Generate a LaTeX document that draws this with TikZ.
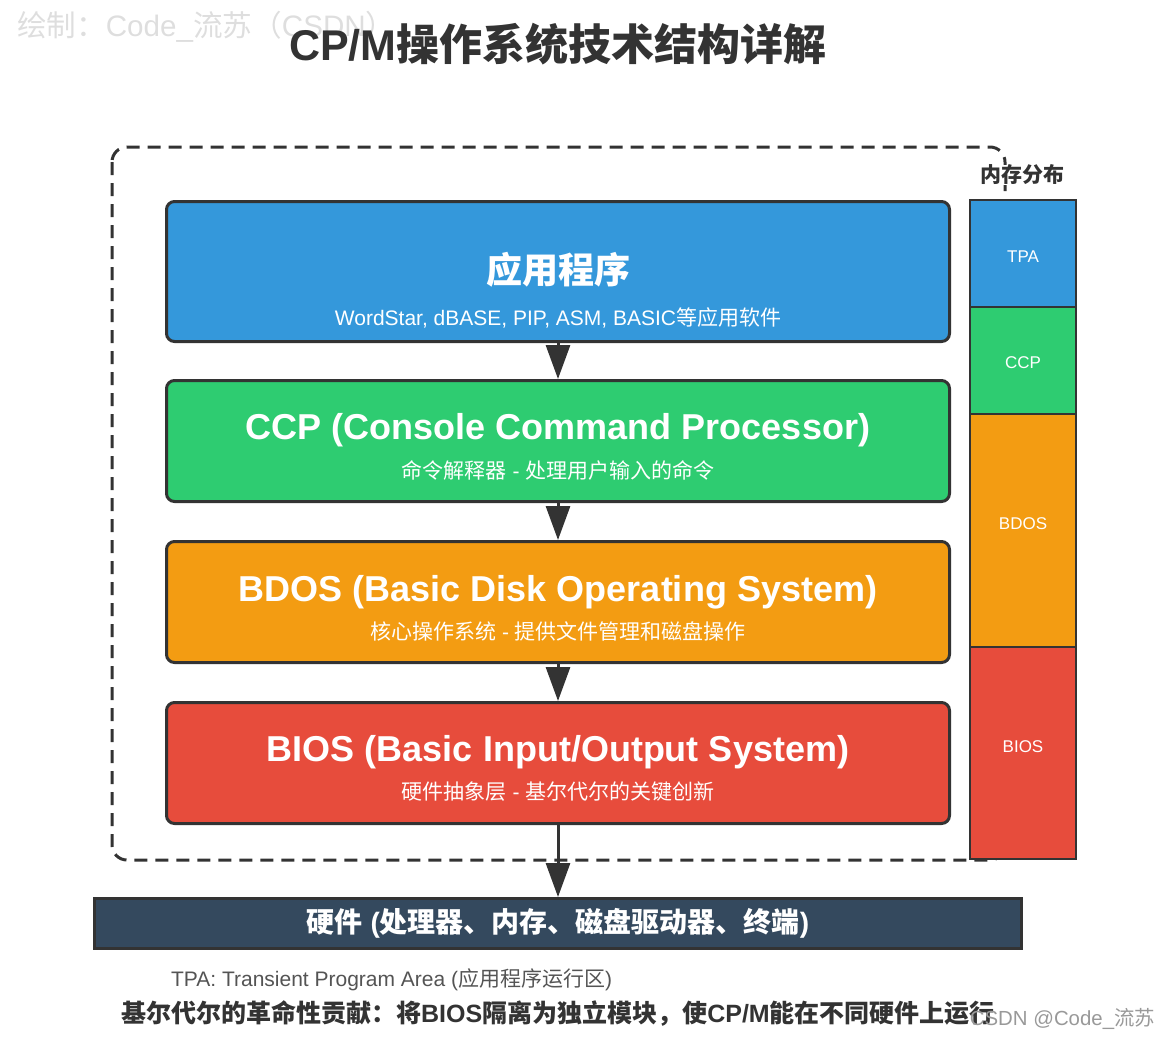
\documentclass[tikz,border=0pt]{standalone}
\usepackage{fontspec}
\setmainfont{Liberation Sans}
\newfontfamily\zhfont{Noto Sans CJK SC}
\newcommand\zh[1]{{\zhfont #1}}
\usetikzlibrary{arrows.meta}
\definecolor{appblue}{HTML}{3498DB}
\definecolor{ccpgreen}{HTML}{2ECC71}
\definecolor{bdosorange}{HTML}{F39C12}
\definecolor{biosred}{HTML}{E74C3C}
\definecolor{hwnavy}{HTML}{34495E}
\definecolor{edge}{HTML}{333333}
\tikzset{
  layer/.style={draw=edge, line width=1.5pt, rounded corners=4pt,
    minimum width=391.5pt, minimum height=60.5pt, inner sep=0pt},
  layertitle/.style={text=white, font=\fontsize{18}{20}\selectfont\bfseries},
  layersub/.style={text=white, font=\fontsize{10.5}{12}\selectfont},
  memblock/.style={draw=edge, line width=1pt, minimum width=53pt, inner sep=0pt},
  memtext/.style={text=white, font=\fontsize{8.5}{10}\selectfont},
  flow/.style={draw=edge, line width=1.5pt, -{Triangle[width=12pt,length=17pt]}},
}
\begin{document}
\begin{tikzpicture}[x=0.5pt,y=-0.5pt]
\useasboundingbox (0,0) rectangle (1166,1039);
% watermark and title
\node[anchor=west, text=black!13, font=\fontsize{14.8}{16}\selectfont] (mark) at (10,27)
  {\zh{绘制：}Code\_\zh{流苏（}CSDN\zh{）}};
\node[text=edge, font=\fontsize{21.5}{24}\selectfont\bfseries] (title) at (558,44)
  {CP/M\zh{操作系统技术结构详解}};
% dashed frame round the layers
\draw[edge, line width=1.5pt, dash pattern=on 6.5pt off 4pt, rounded corners=7.5pt]
  (112,147) rectangle (1005,860);
% memory map
\node[fill=white, inner sep=0pt, text=edge, font=\fontsize{10.5}{12}\selectfont\bfseries]
  (memlabel) at (1022,175) {\zh{内存分布}};
\node[memblock, fill=appblue, minimum height=53.5pt] (mtpa) at (1023,253.5) {};
\node[memblock, fill=ccpgreen, minimum height=53.5pt] (mccp) at (1023,360.5) {};
\node[memblock, fill=bdosorange, minimum height=116.5pt] (mbdos) at (1023,530.5) {};
\node[memblock, fill=biosred, minimum height=106pt] (mbios) at (1023,753) {};
\node[memtext] (mtpatext) at (1023,257) {TPA};
\node[memtext] (mccptext) at (1023,363) {CCP};
\node[memtext] (mbdostext) at (1023,524) {BDOS};
\node[memtext] (mbiostext) at (1023,747) {BIOS};
% layers
\node[layer, fill=appblue, minimum height=70pt] (app) at (558,271.5) {};
\node[layertitle] (apptitle) at (558,270) {\zh{应用程序}};
\node[layersub] (appsub) at (558,318) {WordStar, dBASE, PIP, ASM, BASIC\zh{等应用软件}};

\node[layer, fill=ccpgreen] (ccp) at (558,441) {};
\node[layertitle] (ccptitle) at (558,430) {CCP (Console Command Processor)};
\node[layersub] (ccpsub) at (558,470) {\zh{命令解释器} - \zh{处理用户输入的命令}};

\node[layer, fill=bdosorange] (bdos) at (558,602) {};
\node[layertitle] (bdostitle) at (558,592) {BDOS (Basic Disk Operating System)};
\node[layersub] (bdossub) at (558,631) {\zh{核心操作系统} - \zh{提供文件管理和磁盘操作}};

\node[layer, fill=biosred] (bios) at (558,763) {};
\node[layertitle] (biostitle) at (558,752) {BIOS (Basic Input/Output System)};
\node[layersub] (biossub) at (558,792) {\zh{硬件抽象层} - \zh{基尔代尔的关键创新}};

\node[draw=edge, line width=1.5pt, fill=hwnavy, minimum width=463.5pt, minimum height=25pt,
  inner sep=0pt, text=white, font=\fontsize{14}{16}\selectfont\bfseries] (hw) at (558,923.5)
  {\zh{硬件} (\zh{处理器、内存、磁盘驱动器、终端})};
% arrows
\draw[flow] (app.south) -- (ccp.north);
\draw[flow] (ccp.south) -- (bdos.north);
\draw[flow] (bdos.south) -- (bios.north);
\draw[flow] (bios.south) -- (hw.north);
% notes
\node[anchor=west, text=black!67, font=\fontsize{10.5}{12}\selectfont] (note) at (164,980)
  {TPA: Transient Program Area (\zh{应用程序运行区})};
\node[text=edge, font=\fontsize{12.5}{14}\selectfont\bfseries] (credit) at (558,1013)
  {\zh{基尔代尔的革命性贡献：将}BIOS\zh{隔离为独立模块，使}CP/M\zh{能在不同硬件上运行}};
\node[anchor=east, text=black!40, font=\fontsize{10.2}{12}\selectfont] (mark2) at (1162,1019)
  {CSDN @Code\_\zh{流苏}};
\end{tikzpicture}
\end{document}
